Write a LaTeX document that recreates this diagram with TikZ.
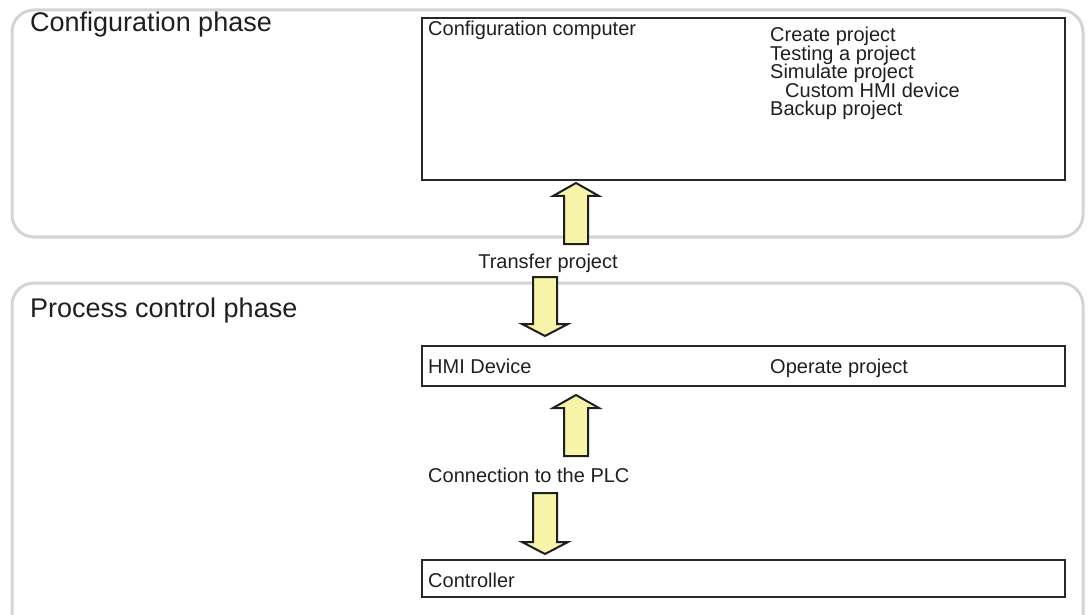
\documentclass[tikz,border=0pt]{standalone}
\usepackage{fontspec}
\setmainfont{Liberation Sans}
\definecolor{panelgray}{RGB}{212,212,212}
\definecolor{arrowfill}{RGB}{247,243,168}
\definecolor{boxline}{RGB}{40,40,40}
\begin{document}
\begin{tikzpicture}[x=1pt,y=-1pt,
  panel/.style={draw=panelgray,line width=3pt,rounded corners=22pt},
  hbox/.style={draw=boxline,line width=1.4pt},
  big/.style={anchor=base west,inner sep=0pt,font=\fontsize{27}{27}\selectfont,text=black!88},
  txt/.style={anchor=base west,inner sep=0pt,font=\fontsize{20}{20}\selectfont,text=black!88},
  blockarrow/.style={draw=black!88,line width=2pt,fill=arrowfill,line join=miter}]
\useasboundingbox (0,0) rectangle (1088,615);
% panels
\draw[panel] (12,10) rectangle (1083,237);
\draw[panel] (12,283) rectangle (1083,660);
\node[big] (cphase) at (30,32) {Configuration phase};
\node[big] (pphase) at (30,317) {Process control phase};
% boxes
\draw[hbox] (422,18) rectangle (1065,180);
\node[txt] (cct) at (428,36) {Configuration computer};
\node[txt] (l1) at (770,42) {Create project};
\node[txt] (l2) at (770,60.5) {Testing a project};
\node[txt] (l3) at (770,79) {Simulate project};
\node[txt] (l4) at (785,97.5) {Custom HMI device};
\node[txt] (l5) at (770,116) {Backup project};
\draw[hbox] (422,346) rectangle (1065,386);
\node[txt] (hmi) at (428,373) {HMI Device};
\node[txt] (op) at (770,373) {Operate project};
\draw[hbox] (422,560) rectangle (1065,597);
\node[txt] (ctrl) at (428,587) {Controller};
% labels
\node[txt,anchor=base] (tp) at (548,269) {Transfer project};
\node[txt] (plc) at (428,482) {Connection to the PLC};
% arrows
\draw[blockarrow] (576,183) -- (599,196) -- (588,196) -- (588,244) -- (564,244) -- (564,196) -- (553,196) -- cycle;
\draw[blockarrow] (545,336) -- (568,324) -- (557,324) -- (557,277) -- (533,277) -- (533,324) -- (522,324) -- cycle;
\draw[blockarrow] (576,395) -- (599,408) -- (588,408) -- (588,456) -- (564,456) -- (564,408) -- (553,408) -- cycle;
\draw[blockarrow] (545,554) -- (568,542) -- (557,542) -- (557,493) -- (533,493) -- (533,542) -- (522,542) -- cycle;
\end{tikzpicture}
\end{document}
